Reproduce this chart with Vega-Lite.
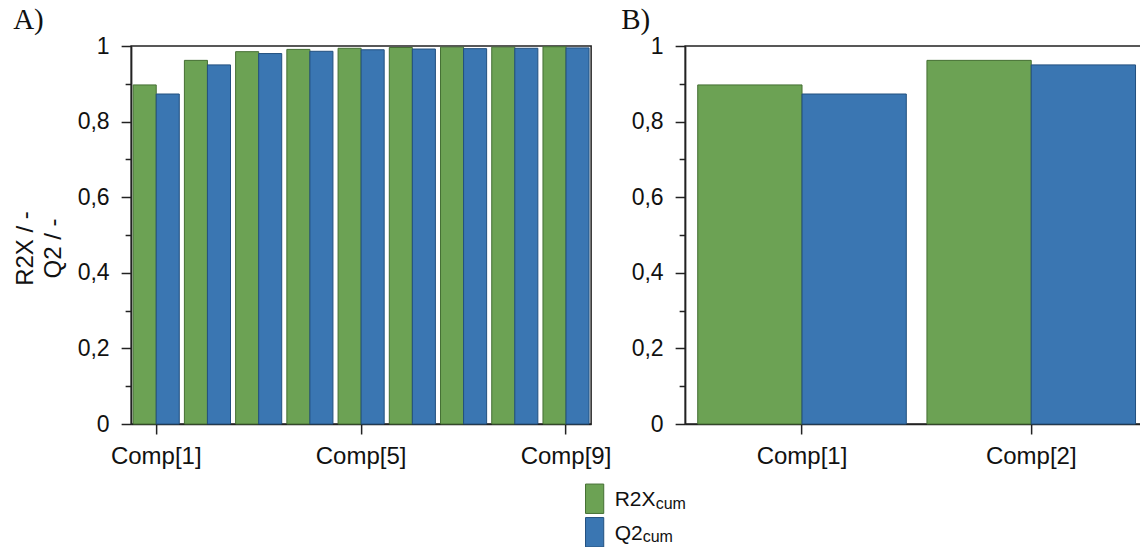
{
  "$schema": "https://vega.github.io/schema/vega-lite/v6.json",
  "padding": {"left": 12, "top": 5, "right": 0, "bottom": 0},
  "background": "#ffffff",
  "datasets": {
    "pca9": [
      {"comp": "Comp[1]", "series": "R2X", "value": 0.897},
      {"comp": "Comp[1]", "series": "Q2", "value": 0.873},
      {"comp": "Comp[2]", "series": "R2X", "value": 0.962},
      {"comp": "Comp[2]", "series": "Q2", "value": 0.950},
      {"comp": "Comp[3]", "series": "R2X", "value": 0.985},
      {"comp": "Comp[3]", "series": "Q2", "value": 0.980},
      {"comp": "Comp[4]", "series": "R2X", "value": 0.991},
      {"comp": "Comp[4]", "series": "Q2", "value": 0.986},
      {"comp": "Comp[5]", "series": "R2X", "value": 0.994},
      {"comp": "Comp[5]", "series": "Q2", "value": 0.990},
      {"comp": "Comp[6]", "series": "R2X", "value": 0.996},
      {"comp": "Comp[6]", "series": "Q2", "value": 0.992},
      {"comp": "Comp[7]", "series": "R2X", "value": 0.997},
      {"comp": "Comp[7]", "series": "Q2", "value": 0.993},
      {"comp": "Comp[8]", "series": "R2X", "value": 0.997},
      {"comp": "Comp[8]", "series": "Q2", "value": 0.994},
      {"comp": "Comp[9]", "series": "R2X", "value": 0.998},
      {"comp": "Comp[9]", "series": "Q2", "value": 0.995}
    ],
    "pca2": [
      {"comp": "Comp[1]", "series": "R2X", "value": 0.897},
      {"comp": "Comp[1]", "series": "Q2", "value": 0.873},
      {"comp": "Comp[2]", "series": "R2X", "value": 0.962},
      {"comp": "Comp[2]", "series": "Q2", "value": 0.950}
    ],
    "key": [
      {"series": "R2X", "main": "R2X", "sub": "cum"},
      {"series": "Q2", "main": "Q2", "sub": "cum"}
    ]
  },
  "vconcat": [
    {
      "hconcat": [
        {
          "width": 460,
          "height": 378,
          "title": {"text": "A)", "dx": -118, "offset": 0},
          "data": {"name": "pca9"},
          "mark": {"type": "bar", "strokeWidth": 1},
          "encoding": {
            "x": {
              "field": "comp", "type": "nominal", "sort": null,
              "scale": {"paddingInner": 0.1, "paddingOuter": 0.04},
              "axis": {"values": ["Comp[1]", "Comp[5]", "Comp[9]"], "labelAngle": 0, "title": null, "tickSize": 10, "labelPadding": 10, "labelFontSize": 24}
            },
            "xOffset": {"field": "series", "type": "nominal", "sort": ["R2X", "Q2"]},
            "y": {
              "field": "value", "type": "quantitative",
              "scale": {"domain": [0, 1], "nice": false},
              "axis": {
                "values": [0, 0.1, 0.2, 0.3, 0.4, 0.5, 0.6, 0.7, 0.8, 0.9, 1],
                "tickSize": {"condition": {"test": "round(datum.value * 10) % 2 === 0", "value": 10}, "value": 6},
                "labelExpr": "round(datum.value * 10) % 2 === 0 ? replace(format(datum.value, '~g'), '.', ',') : ''",
                "labelFontSize": 23, "labelPadding": 12,
                "title": ["R2X / -", "Q2 / -"], "titleFontSize": 24, "titleLineHeight": 28, "titlePadding": 12, "titleY": 202
              }
            },
            "color": {"field": "series", "type": "nominal", "scale": {"domain": ["R2X", "Q2"], "range": ["#6ca254", "#3a76b2"]}, "legend": null},
            "stroke": {"field": "series", "type": "nominal", "scale": {"domain": ["R2X", "Q2"], "range": ["#456f33", "#22507f"]}, "legend": null}
          }
        },
        {
          "width": 463,
          "height": 378,
          "title": {"text": "B)", "dx": -64, "offset": 0},
          "data": {"name": "pca2"},
          "mark": {"type": "bar", "strokeWidth": 1},
          "encoding": {
            "x": {
              "field": "comp", "type": "nominal", "sort": null,
              "scale": {"paddingInner": 0.09, "paddingOuter": 0.055},
              "axis": {"labelAngle": 0, "title": null, "tickSize": 10, "labelPadding": 10, "labelFontSize": 24}
            },
            "xOffset": {"field": "series", "type": "nominal", "sort": ["R2X", "Q2"]},
            "y": {
              "field": "value", "type": "quantitative",
              "scale": {"domain": [0, 1], "nice": false},
              "axis": {
                "values": [0, 0.1, 0.2, 0.3, 0.4, 0.5, 0.6, 0.7, 0.8, 0.9, 1],
                "tickSize": {"condition": {"test": "round(datum.value * 10) % 2 === 0", "value": 10}, "value": 6},
                "labelExpr": "round(datum.value * 10) % 2 === 0 ? replace(format(datum.value, '~g'), '.', ',') : ''",
                "labelFontSize": 23, "labelPadding": 12,
                "title": null
              }
            },
            "color": {"field": "series", "type": "nominal", "scale": {"domain": ["R2X", "Q2"], "range": ["#6ca254", "#3a76b2"]}, "legend": null},
            "stroke": {"field": "series", "type": "nominal", "scale": {"domain": ["R2X", "Q2"], "range": ["#456f33", "#22507f"]}, "legend": null}
          }
        }
      ],
      "spacing": 8,
      "resolve": {"scale": {"x": "independent", "xOffset": "independent"}}
    },
    {
      "width": 1,
      "height": 67,
      "view": {"stroke": null},
      "data": {"name": "key"},
      "encoding": {
        "y": {"field": "series", "type": "nominal", "sort": ["R2X", "Q2"], "axis": null}
      },
      "layer": [
        {
          "mark": {"type": "point", "shape": "M-0.62,-1V1H0.62V-1Z", "filled": true, "size": 864, "strokeWidth": 1, "opacity": 1},
          "encoding": {
            "color": {"field": "series", "type": "nominal", "scale": {"domain": ["R2X", "Q2"], "range": ["#6ca254", "#3a76b2"]}, "legend": null},
            "stroke": {"field": "series", "type": "nominal", "scale": {"domain": ["R2X", "Q2"], "range": ["#456f33", "#22507f"]}, "legend": null}
          }
        },
        {
          "mark": {"type": "text", "align": "left", "baseline": "alphabetic", "dx": 20, "dy": 7.5, "fontSize": 21, "font": "Liberation Sans", "color": "#111"},
          "encoding": {"text": {"field": "main"}}
        },
        {
          "transform": [{"filter": "datum.series === 'R2X'"}],
          "mark": {"type": "text", "align": "left", "baseline": "alphabetic", "dx": 61, "dy": 10, "fontSize": 16, "font": "Liberation Sans", "color": "#111"},
          "encoding": {"text": {"field": "sub"}}
        },
        {
          "transform": [{"filter": "datum.series === 'Q2'"}],
          "mark": {"type": "text", "align": "left", "baseline": "alphabetic", "dx": 48, "dy": 10, "fontSize": 16, "font": "Liberation Sans", "color": "#111"},
          "encoding": {"text": {"field": "sub"}}
        }
      ]
    }
  ],
  "spacing": 13,
  "center": true,
  "config": {
    "view": {"stroke": "#222222", "strokeWidth": 1.5},
    "axis": {
      "grid": false,
      "labelFont": "Liberation Sans", "titleFont": "Liberation Sans",
      "labelColor": "#111111", "titleColor": "#111111", "titleFontWeight": "normal",
      "domainColor": "#222222", "domainWidth": 1.5,
      "tickColor": "#222222", "tickWidth": 1.5
    },
    "title": {"font": "Liberation Serif", "fontSize": 29, "fontWeight": "normal", "color": "#111111", "anchor": "start", "frame": "group"}
  }
}
